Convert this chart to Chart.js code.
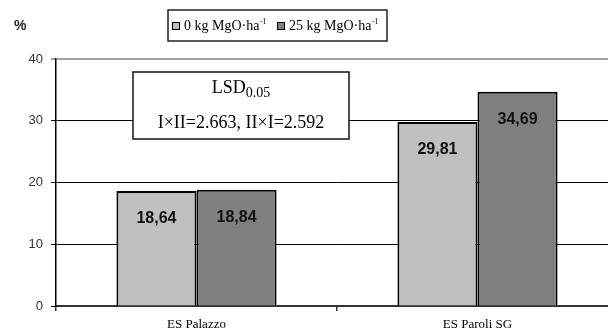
<!DOCTYPE html>
<html>
<head>
<meta charset="utf-8">
<script src="https://cdn.jsdelivr.net/npm/chart.js@4/dist/chart.umd.min.js"></script>
<style>
  html, body { margin: 0; padding: 0; background: #fff; overflow: hidden; }
  #wrap { position: relative; width: 618px; height: 331px; }
</style>
</head>
<body>
<div id="wrap"><canvas id="c" width="618" height="331"></canvas></div>
<script>
// Sites and magnesium treatments
const categories = ['ES Palazzo', 'ES Paroli SG'];
const dose0 = [18.64, 29.81];
const dose25 = [18.84, 34.69];
const seriesNames = ['0 kg MgO·ha', '25 kg MgO·ha'];
const yTicks = [0, 10, 20, 30, 40];
const lsdLines = ['LSD', '0.05', 'I×II=2.663, II×I=2.592'];

const fmt = v => v.toFixed(2).replace('.', ',');

// Value labels written inside each bar, below its top edge
const valueLabels = {
  id: 'valueLabels',
  afterDatasetsDraw(chart) {
    const ctx = chart.ctx;
    ctx.save();
    ctx.font = 'bold 16px "Liberation Sans", Arial, sans-serif';
    ctx.fillStyle = '#111';
    ctx.textAlign = 'center';
    ctx.textBaseline = 'middle';
    chart.data.datasets.forEach((ds, di) => {
      chart.getDatasetMeta(di).data.forEach((bar, i) => {
        ctx.fillText(fmt(ds.data[i]), bar.x, bar.y + 28);
      });
    });
    ctx.restore();
  }
};

// Boxed legend, unit label and LSD note
const annotations = {
  id: 'annotations',
  afterDraw(chart) {
    const ctx = chart.ctx;
    ctx.save();
    // unit
    ctx.font = 'bold 14px "Liberation Sans", Arial, sans-serif';
    ctx.fillStyle = '#222';
    ctx.textAlign = 'left';
    ctx.textBaseline = 'alphabetic';
    ctx.fillText('%', 14, 30);

    // legend box
    ctx.fillStyle = '#fff';
    ctx.fillRect(168, 10, 219, 31);
    ctx.strokeStyle = '#222';
    ctx.lineWidth = 1.5;
    ctx.strokeRect(168, 10, 219, 31);
    const swX = [172, 277];
    chart.data.datasets.forEach((ds, i) => {
      ctx.fillStyle = ds.backgroundColor;
      ctx.fillRect(swX[i], 22, 8, 8);
      ctx.strokeStyle = '#000';
      ctx.lineWidth = 1;
      ctx.strokeRect(swX[i] + 0.5, 22.5, 7, 7);
      ctx.fillStyle = '#000';
      ctx.font = '14px "Liberation Serif", "Times New Roman", serif';
      ctx.textAlign = 'left';
      const tx = swX[i] + 12;
      ctx.fillText(seriesNames[i], tx, 30);
      const w = ctx.measureText(seriesNames[i]).width;
      ctx.font = '8px "Liberation Serif", "Times New Roman", serif';
      ctx.fillText('-1', tx + w + 0.5, 24);
    });

    // LSD box
    ctx.fillStyle = '#fff';
    ctx.fillRect(133, 72, 216, 67);
    ctx.strokeStyle = '#111';
    ctx.lineWidth = 1.5;
    ctx.strokeRect(133, 72, 216, 67);
    ctx.fillStyle = '#000';
    ctx.font = '18px "Liberation Serif", "Times New Roman", serif';
    const w1 = ctx.measureText(lsdLines[0]).width;
    ctx.font = '14px "Liberation Serif", "Times New Roman", serif';
    const w2 = ctx.measureText(lsdLines[1]).width;
    const sx = 241 - (w1 + w2) / 2;
    ctx.font = '18px "Liberation Serif", "Times New Roman", serif';
    ctx.textAlign = 'left';
    ctx.fillText(lsdLines[0], sx, 93);
    ctx.font = '14px "Liberation Serif", "Times New Roman", serif';
    ctx.fillText(lsdLines[1], sx + w1, 97);
    ctx.font = '18px "Liberation Serif", "Times New Roman", serif';
    ctx.textAlign = 'center';
    ctx.fillText(lsdLines[2], 241, 128);
    ctx.restore();
  }
};

new Chart(document.getElementById('c'), {
  type: 'bar',
  data: {
    labels: categories,
    datasets: [
      { label: seriesNames[0], data: dose0, backgroundColor: '#c0c0c0', borderColor: '#000', borderWidth: 2 },
      { label: seriesNames[1], data: dose25, backgroundColor: '#808080', borderColor: '#000', borderWidth: 2 }
    ]
  },
  options: {
    responsive: false,
    animation: false,
    events: [],
    layout: { padding: { top: 59, right: 0, bottom: 0, left: 0 } },
    datasets: { bar: { barPercentage: 1, categoryPercentage: 0.57 } },
    plugins: { legend: { display: false }, tooltip: { enabled: false }, title: { display: false } },
    scales: {
      x: {
        afterFit(s) { s.height = 25; },
        grid: { offset: true, drawOnChartArea: false, drawTicks: true, tickLength: 5, color: '#333', lineWidth: 1.5 },
        border: { color: '#333', width: 2 },
        ticks: {
          color: '#000',
          padding: 6,
          font: { family: '"Liberation Serif", "Times New Roman", serif', size: 13 }
        }
      },
      y: {
        min: 0, max: 40,
        afterFit(s) { s.width = 56; },
        afterBuildTicks(s) { s.ticks = yTicks.map(v => ({ value: v })); },
        grid: {
          color: c => (c.tick && c.tick.value === 40) ? '#a0a0a0' : '#000',
          lineWidth: c => (c.tick && c.tick.value === 40) ? 2 : 1,
          tickLength: 5
        },
        border: { color: '#000', width: 1.5 },
        ticks: {
          color: '#333',
          padding: 8,
          font: { family: '"Liberation Sans", Arial, sans-serif', size: 13 }
        }
      }
    }
  },
  plugins: [valueLabels, annotations]
});
</script>
</body>
</html>
